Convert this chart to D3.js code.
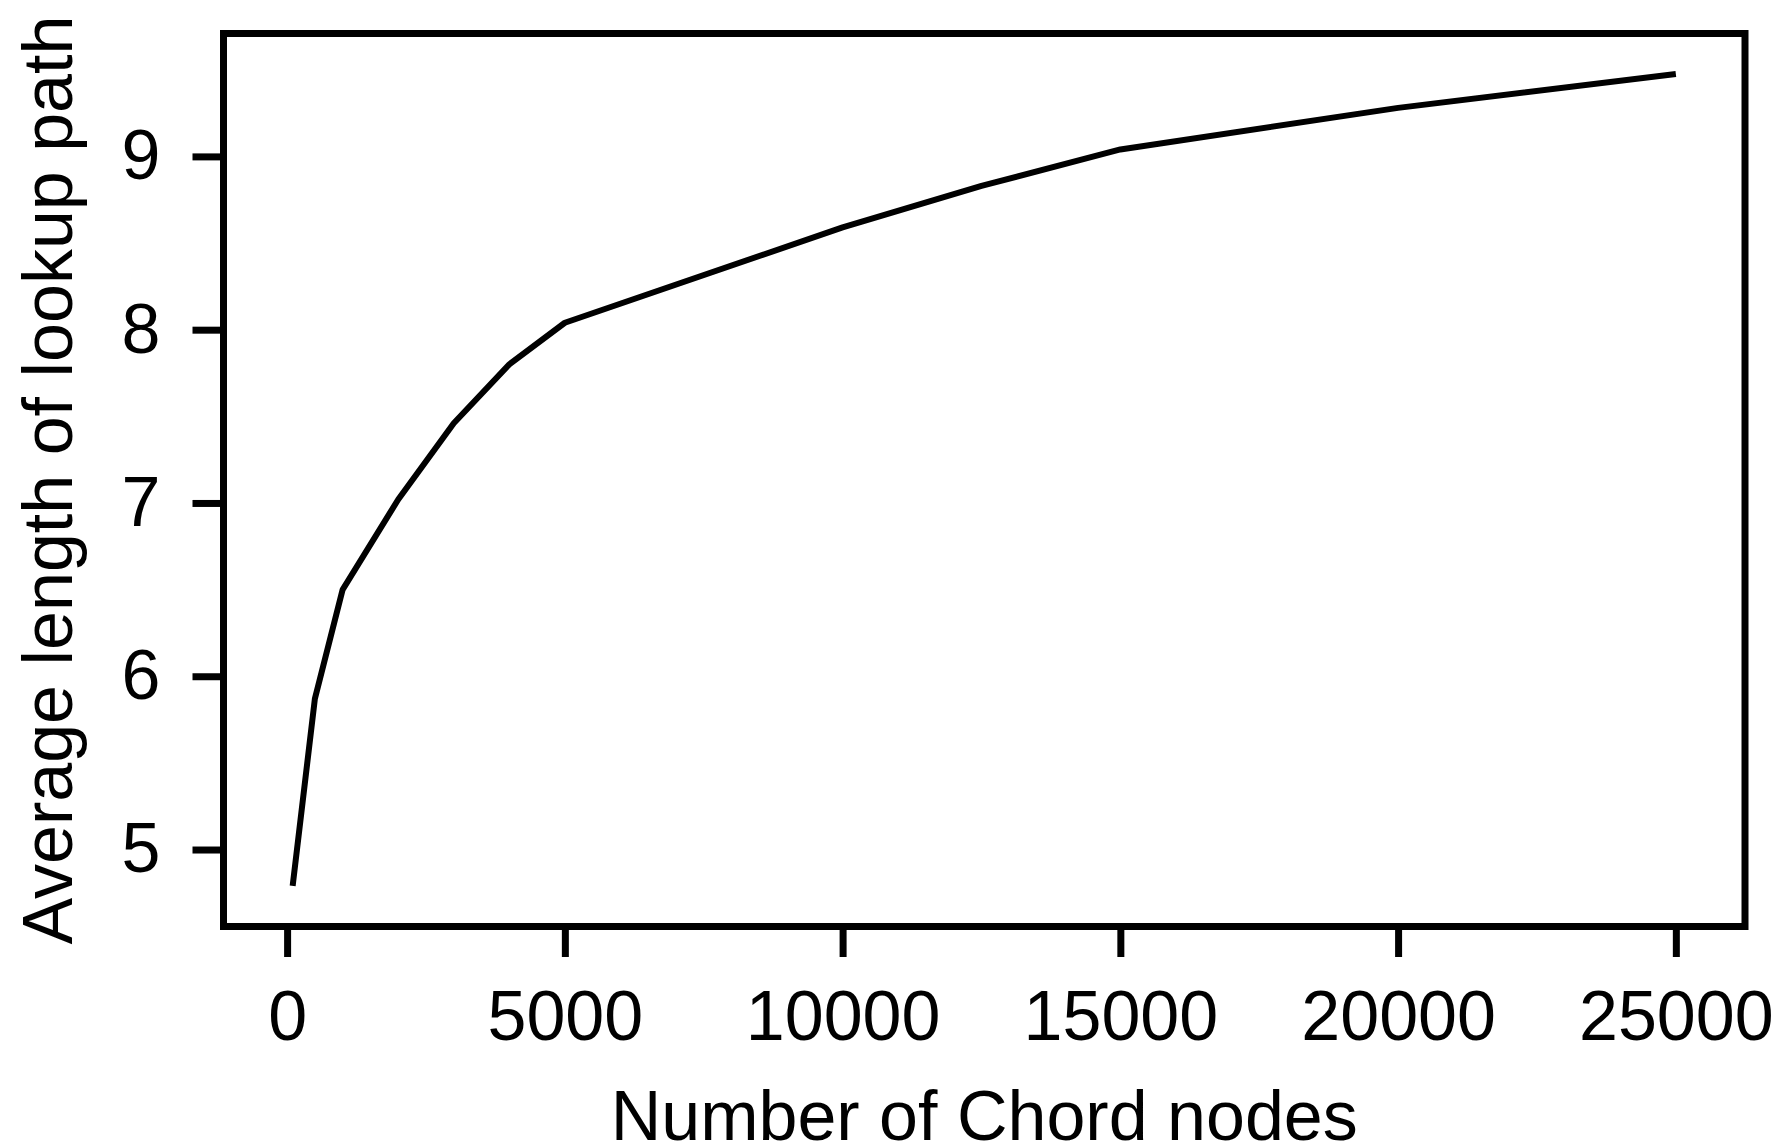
<!DOCTYPE html>
<html>
<head>
<meta charset="utf-8">
<script src="https://cdn.jsdelivr.net/npm/d3@7"></script>
<style>
  html, body { margin: 0; padding: 0; background: #fff; }
  svg text { font-family: "Liberation Sans", Arial, Helvetica, sans-serif; fill: #000; }
</style>
</head>
<body>
<svg id="chart" width="1780" height="1146"></svg>
<script>
// Data
const nodes = [100, 500, 1000, 2000, 3000, 4000, 5000, 10000, 12500, 15000, 20000, 25000];
const avgPathLength = [4.79, 5.87, 6.50, 7.02, 7.46, 7.80, 8.04, 8.59, 8.83, 9.04, 9.28, 9.475];
const xTicks = [0, 5000, 10000, 15000, 20000, 25000];
const yTicks = [5, 6, 7, 8, 9];
const xLabel = "Number of Chord nodes";
const yLabel = "Average length of lookup path";

(function () {
const svg = d3.select("#chart");
const plotLeft = 223.5, plotRight = 1745, plotTop = 33.5, plotBottom = 926.5;

// matplotlib-like 5% margins
const xExt = d3.extent(nodes), yExt = d3.extent(avgPathLength);
const xPad = (xExt[1] - xExt[0]) * 0.05, yPad = (yExt[1] - yExt[0]) * 0.05;
const x = d3.scaleLinear().domain([xExt[0] - xPad, xExt[1] + xPad]).range([plotLeft, plotRight]);
const y = d3.scaleLinear().domain([yExt[0] - yPad, yExt[1] + yPad]).range([plotBottom, plotTop]);

const fontSize = 70;

// x axis
const xAxis = svg.append("g").attr("transform", `translate(0,${plotBottom})`)
  .call(d3.axisBottom(x).tickValues(xTicks).tickFormat(d3.format("d"))
        .tickSizeInner(30.5).tickSizeOuter(0).tickPadding(33));
xAxis.select(".domain").remove();
xAxis.selectAll(".tick line").attr("stroke", "#000").attr("stroke-width", 7);
xAxis.selectAll(".tick text").attr("font-size", fontSize)
  .attr("font-family", "'Liberation Sans', Arial, sans-serif").attr("fill", "#000");

// y axis
const yAxis = svg.append("g").attr("transform", `translate(${plotLeft},0)`)
  .call(d3.axisLeft(y).tickValues(yTicks).tickFormat(d3.format("d"))
        .tickSizeInner(31).tickSizeOuter(0).tickPadding(32));
yAxis.select(".domain").remove();
yAxis.selectAll(".tick line").attr("stroke", "#000").attr("stroke-width", 7);
yAxis.selectAll(".tick text").attr("font-size", fontSize)
  .attr("font-family", "'Liberation Sans', Arial, sans-serif").attr("fill", "#000");

// line
const data = nodes.map((n, i) => [n, avgPathLength[i]]);
svg.append("path")
  .datum(data)
  .attr("fill", "none")
  .attr("stroke", "#000")
  .attr("stroke-width", 6)
  .attr("stroke-linejoin", "round")
  .attr("stroke-linecap", "butt")
  .attr("d", d3.line().x(d => x(d[0])).y(d => y(d[1])));

// frame
svg.append("rect")
  .attr("x", plotLeft).attr("y", plotTop)
  .attr("width", plotRight - plotLeft).attr("height", plotBottom - plotTop)
  .attr("fill", "none").attr("stroke", "#000").attr("stroke-width", 7)
  .attr("stroke-linejoin", "miter");

// axis labels
svg.append("text")
  .attr("x", (plotLeft + plotRight) / 2).attr("y", 1140)
  .attr("text-anchor", "middle").attr("font-size", fontSize)
  .text(xLabel);

svg.append("text")
  .attr("transform", `translate(72,${(plotTop + plotBottom) / 2}) rotate(-90)`)
  .attr("text-anchor", "middle").attr("font-size", fontSize)
  .text(yLabel);
})();
</script>
</body>
</html>
